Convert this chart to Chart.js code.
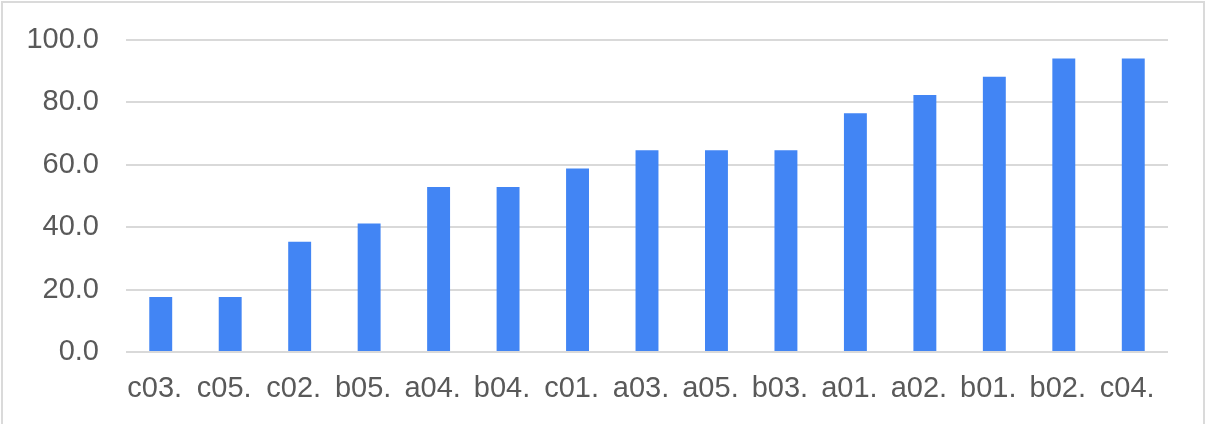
<!DOCTYPE html>
<html>
<head>
<meta charset="utf-8">
<script src="https://cdn.jsdelivr.net/npm/chart.js@4/dist/chart.umd.min.js"></script>
<style>
    html, body { margin: 0; padding: 0; background: #ffffff; }
    #frame {
        position: absolute;
        left: 1px;
        top: 1px;
        width: 1204px;
        height: 423px;
        box-sizing: border-box;
        border: 2px solid #dadada;
        border-bottom: none;
    }
    #chart { display: block; }
</style>
</head>
<body>
<div id="frame">
    <canvas id="chart" width="1200" height="421"></canvas>
</div>
<script>
// Data kategori dan nilai
const categories = ['c03.', 'c05.', 'c02.', 'b05.', 'a04.', 'b04.', 'c01.', 'a03.', 'a05.', 'b03.', 'a01.', 'a02.', 'b01.', 'b02.', 'c04.'];
const values = [17.6, 17.6, 35.3, 41.2, 52.9, 52.9, 58.8, 64.7, 64.7, 64.7, 76.5, 82.4, 88.2, 94.1, 94.1];
const yTicks = [0, 20, 40, 60, 80, 100];

const tickFont = { family: '"Liberation Sans", Arial, sans-serif', size: 29 };
const tickColor = '#595959';
const gridColor = '#d9d9d9';

const ctx = document.getElementById('chart').getContext('2d');
new Chart(ctx, {
    type: 'bar',
    data: {
        labels: categories,
        datasets: [{
            data: values,
            backgroundColor: '#4285f4',
            borderWidth: 0,
            categoryPercentage: 1,
            barPercentage: 0.33
        }]
    },
    options: {
        responsive: false,
        animation: false,
        layout: { padding: { top: 37, right: 35, bottom: 0, left: 0 } },
        plugins: {
            legend: { display: false },
            tooltip: { enabled: false }
        },
        scales: {
            x: {
                grid: { display: false },
                border: { display: false },
                ticks: {
                    font: tickFont,
                    color: tickColor,
                    padding: 12,
                    labelOffset: -6,
                    maxRotation: 0,
                    autoSkip: false
                },
                afterFit: scale => { scale.height = 72; }
            },
            y: {
                min: 0,
                max: 100,
                border: { display: false },
                grid: { color: gridColor, lineWidth: 2, drawTicks: false },
                afterBuildTicks: scale => {
                    scale.ticks = yTicks.map(v => ({ value: v }));
                },
                ticks: {
                    font: tickFont,
                    color: tickColor,
                    padding: 27,
                    callback: v => Number(v).toFixed(1)
                },
                afterFit: scale => {
                    scale.width = 123;
                    // padding label jangan mendorong area grafik
                    scale.paddingTop = 0;
                    scale.paddingBottom = 0;
                }
            }
        }
    }
});
</script>
</body>
</html>
